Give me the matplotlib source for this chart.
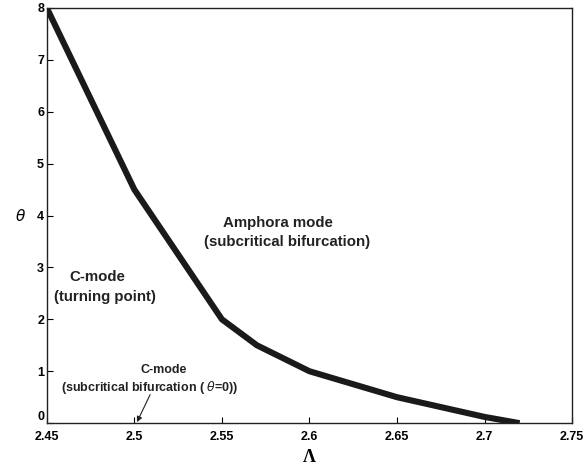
#!/usr/bin/env python3
"""Bifurcation boundary between C-mode and amphora mode in the (Lambda, theta) plane."""
import matplotlib
matplotlib.use("Agg")
import matplotlib.pyplot as plt

lam = [2.45, 2.50, 2.55, 2.57, 2.60, 2.65, 2.70, 2.72]
theta = [8.0, 4.5, 2.0, 1.5, 1.0, 0.5, 0.12, 0.0]

x_ticks = [2.45, 2.5, 2.55, 2.6, 2.65, 2.7, 2.75]
x_labels = ["2.45", "2.5", "2.55", "2.6", "2.65", "2.7", "2.75"]
y_ticks = list(range(0, 9))

plt.rcParams["font.family"] = ["Liberation Sans", "DejaVu Sans"]

fig = plt.figure(figsize=(5.85, 4.65), dpi=100)
ax = fig.add_axes([0.080, 0.090, 0.898, 0.893])

ax.plot(lam, theta, color="#1a1a1a", linewidth=4.4, solid_capstyle="butt")

ax.set_xlim(2.45, 2.75)
ax.set_ylim(0, 8)
ax.set_xticks(x_ticks)
ax.set_xticklabels(x_labels)
ax.set_yticks(y_ticks)
ax.tick_params(direction="in", length=4, width=0.8, labelsize=9, pad=2)
ax.tick_params(axis="x", pad=6)
for lbl in ax.get_xticklabels() + ax.get_yticklabels():
    lbl.set_fontweight("bold")
# lift the "0" a touch so it clears the first x label
ax.get_yticklabels()[0].set_va("bottom")
for sp in ax.spines.values():
    sp.set_linewidth(1.0)
    sp.set_color("#222222")

ax.set_xlabel("Λ", fontsize=13, fontweight="bold", family="Liberation Serif", labelpad=4)
ax.set_ylabel(r"$\theta$", fontsize=11, rotation=0, labelpad=12, va="center")

txt = dict(ha="center", va="center", fontsize=10.8, fontweight="bold", color="#222222")
ax.text(2.582, 3.85, "Amphora mode", **txt)
ax.text(2.587, 3.49, "(subcritical bifurcation)", **txt)
ax.text(2.479, 2.81, "C-mode", **txt)
ax.text(2.483, 2.43, "(turning point)", **txt)

small = dict(ha="center", va="center", fontsize=9, fontweight="bold", color="#222222")
ax.text(2.517, 1.03, "C-mode", **small)
ax.text(2.509, 0.68, r"(subcritical bifurcation ( $\theta$=0))", **small)
ax.annotate("", xy=(2.5015, 0.02), xytext=(2.509, 0.55),
            arrowprops=dict(arrowstyle="-|>", color="#222222", lw=0.8,
                            mutation_scale=8, shrinkA=0, shrinkB=0))

fig.savefig("out.png", dpi=100)
